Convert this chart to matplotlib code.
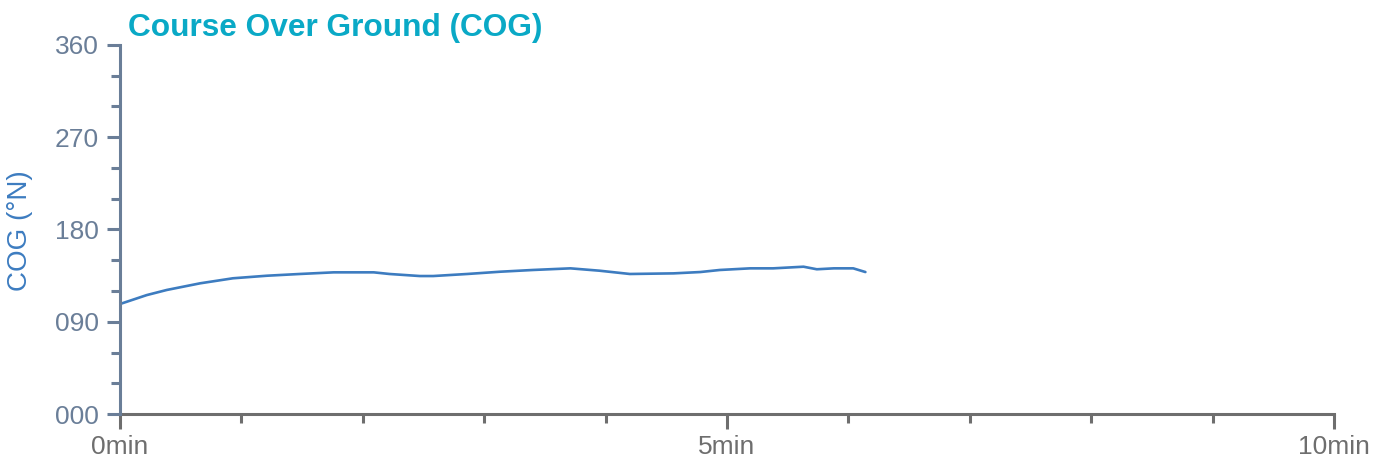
import matplotlib
matplotlib.use("Agg")
import matplotlib.pyplot as plt
from matplotlib.ticker import MultipleLocator, FixedLocator

# data (minutes, degrees)
time_min = [0.0, 0.22, 0.385, 0.66, 0.93, 1.21, 1.48, 1.76, 2.09, 2.22, 2.47, 2.58,
            2.86, 3.13, 3.40, 3.71, 3.95, 4.20, 4.56, 4.78, 4.94, 5.19, 5.38, 5.63,
            5.74, 5.88, 6.04, 6.14]
cog_deg = [107.3, 116.0, 121.0, 127.5, 132.4, 134.9, 136.6, 138.2, 138.2, 136.6, 134.6, 134.6,
           136.6, 138.8, 140.5, 142.1, 139.8, 136.6, 137.2, 138.5, 140.5, 142.1, 142.1, 143.7,
           141.2, 142.1, 142.1, 138.5]
y_ticks = [0, 90, 180, 270, 360]
y_tick_labels = ["000", "090", "180", "270", "360"]
x_ticks = [0, 5, 10]
x_tick_labels = ["0min", "5min", "10min"]

plt.rcParams['font.family'] = ['Liberation Sans', 'DejaVu Sans']

W, H = 1385, 465
fig = plt.figure(figsize=(W / 100, H / 100), dpi=100)
ax = fig.add_axes([120 / W, 1 - 414 / H, (1334 - 120) / W, (414 - 45) / H])

slate = "#6a7e98"
gray = "#6e6e6e"

ax.plot(time_min, cog_deg, color="#3d7cc0", lw=1.9, solid_capstyle='round',
        solid_joinstyle='round')

ax.set_xlim(0, 10)
ax.set_ylim(0, 360)

for s in ["top", "right"]:
    ax.spines[s].set_visible(False)
ax.spines["left"].set_color(slate)
ax.spines["left"].set_linewidth(2.2)
ax.spines["bottom"].set_color(gray)
ax.spines["bottom"].set_linewidth(2.2)
ax.spines["left"].set_zorder(3)

ax.yaxis.set_major_locator(FixedLocator(y_ticks))
ax.set_yticklabels(y_tick_labels)
ax.yaxis.set_minor_locator(MultipleLocator(30))
ax.xaxis.set_major_locator(FixedLocator(x_ticks))
ax.set_xticklabels(x_tick_labels)
ax.xaxis.set_minor_locator(MultipleLocator(1))

ax.tick_params(axis='y', which='major', length=9.5, width=2.2, color=slate,
               labelcolor=slate, labelsize=19, pad=5.5)
ax.tick_params(axis='y', which='minor', length=6.5, width=2.2, color=slate)
ax.tick_params(axis='x', which='major', length=11, width=2.2, color=gray,
               labelcolor=gray, labelsize=19, pad=4)
ax.tick_params(axis='x', which='minor', length=6.5, width=2.2, color=gray)

fig.text(128 / W, 1 - 28 / H, "Course Over Ground (COG)", color="#0aa9c6",
         fontsize=22.8, fontweight='bold', va='center', ha='left')
fig.text(20 / W, 1 - 231 / H, "COG (°N)", color="#3d7cc0", fontsize=20,
         rotation=90, va='center', ha='center')

fig.savefig("out.png", dpi=100)
